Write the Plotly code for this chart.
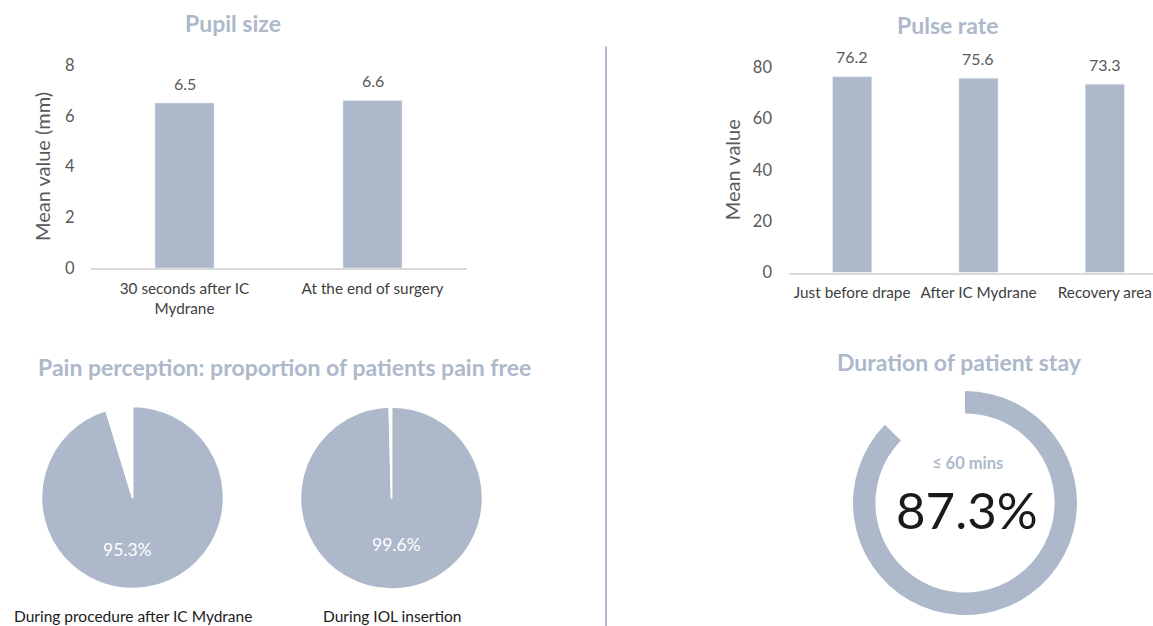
import plotly.graph_objects as go

# ---------------- data ----------------
pupil_categories = ["30 seconds after IC<br>Mydrane", "At the end of surgery"]
pupil_values = [6.5, 6.6]
pupil_ticks = [0, 2, 4, 6, 8]

pulse_categories = ["Just before drape", "After IC Mydrane", "Recovery area"]
pulse_values = [76.2, 75.6, 73.3]
pulse_ticks = [0, 20, 40, 60, 80]

pain_labels = ["During procedure after IC Mydrane", "During IOL insertion"]
pain_free = [95.3, 99.6]

stay_label = "≤ 60 mins"
stay_value = 87.3

# ---------------- style ----------------
W, H = 1153, 626
BAR = "#ADB9CA"
TITLE = "#ADB9CA"
TICK = "#595959"
FONT = "Lato, 'Open Sans', sans-serif"


def px(x):
    return x / W


def py(y):
    return 1 - y / H


fig = go.Figure()

# Pupil size bars
fig.add_trace(go.Bar(
    x=pupil_categories, y=pupil_values, marker_color=BAR, width=0.314,
    xaxis="x", yaxis="y", showlegend=False, hoverinfo="x+y"))

# Pulse rate bars
fig.add_trace(go.Bar(
    x=pulse_categories, y=pulse_values, marker_color=BAR, width=0.31,
    xaxis="x2", yaxis="y2", showlegend=False, hoverinfo="x+y"))

annotations = []
for cat, v in zip(pupil_categories, pupil_values):
    annotations.append(dict(x=cat, y=v, xref="x", yref="y", text=f"{v:.1f}",
                            yanchor="middle", yshift=20,
                            font=dict(size=16, color=TICK)))
for cat, v in zip(pulse_categories, pulse_values):
    annotations.append(dict(x=cat, y=v, xref="x2", yref="y2", text=f"{v:.1f}",
                            yanchor="middle", yshift=20,
                            font=dict(size=16, color=TICK)))

# Pain pies
pie_centers = [(132.5, 497.5), (391.5, 498)]
pie_label_offsets = [(-5.5, 51.5), (4.5, 46)]
pie_r = 91
for i, (val, (cx, cy)) in enumerate(zip(pain_free, pie_centers)):
    fig.add_trace(go.Pie(
        values=[val, round(100 - val, 1)],
        labels=["Pain free", "Pain"],
        marker=dict(colors=[BAR, "#FFFFFF"], line=dict(color="#FFFFFF", width=1.5)),
        sort=False, direction="clockwise", rotation=0,
        textinfo="none",
        domain=dict(x=[px(cx - pie_r), px(cx + pie_r)], y=[py(cy + pie_r), py(cy - pie_r)]),
        showlegend=False, hoverinfo="label+percent"))
    ox, oy = pie_label_offsets[i]
    annotations.append(dict(text=f"{val:.1f}%", x=px(cx + ox), y=py(cy + oy),
                            xref="paper", yref="paper",
                            font=dict(size=17.5, color="#FFFFFF")))
    annotations.append(dict(text=pain_labels[i], x=px(cx), y=py(616),
                            xref="paper", yref="paper",
                            font=dict(size=15.5, color="#1A1A1A")))

# Duration donut
dcx, dcy, dr = 965, 503, 112
fig.add_trace(go.Pie(
    values=[stay_value, round(100 - stay_value, 1)],
    labels=["≤ 60 mins", "> 60 mins"],
    marker=dict(colors=[BAR, "rgba(255,255,255,0)"]),
    hole=0.8, sort=False, direction="clockwise", rotation=0,
    textinfo="none",
    domain=dict(x=[px(dcx - dr), px(dcx + dr)], y=[py(dcy + dr), py(dcy - dr)]),
    showlegend=False, hoverinfo="label+percent"))

xtick_font = dict(size=15.3, color="#404040", family=FONT)
ytick_font = dict(size=16.5, color=TICK, family=FONT)

fig.update_layout(
    width=W, height=H,
    margin=dict(l=0, r=0, t=0, b=0, pad=0, autoexpand=False),
    paper_bgcolor="white", plot_bgcolor="white",
    font=dict(family=FONT, color=TICK),
    xaxis=dict(domain=[px(90.5), px(466.5)], anchor="y", showgrid=False,
               showline=True, linecolor="#D9D9D9", linewidth=1.5,
               ticks="", tickfont=xtick_font, range=[-0.5, 1.5],
               ticklabelstandoff=6, automargin=False),
    yaxis=dict(domain=[py(268), py(65)], anchor="x", range=[0, 8],
               tickvals=pupil_ticks, showgrid=False, zeroline=False,
               showline=False, ticks="", tickfont=ytick_font,
               ticklabelstandoff=15, automargin=False,
               title=dict(text="Mean value (mm)", font=dict(size=20, color=TICK), standoff=8)),
    xaxis2=dict(domain=[px(789), 1.0], anchor="y2", showgrid=False,
                showline=True, linecolor="#D9D9D9", linewidth=1.5,
                ticks="", tickfont=xtick_font,
                range=[-0.5, 2.5 - (1168 - 1153) / 126.7],
                ticklabelstandoff=5, automargin=False),
    yaxis2=dict(domain=[py(272.5), py(67)], anchor="x2", range=[0, 80],
                tickvals=pulse_ticks, showgrid=False, zeroline=False,
                showline=False, ticks="", tickfont=ytick_font,
                ticklabelstandoff=16, automargin=False,
                title=dict(text="Mean value", font=dict(size=20, color=TICK), standoff=6)),
)

annotations += [
    dict(text="<b>Pupil size</b>", x=px(233), y=py(23), font=dict(size=23, color=TITLE)),
    dict(text="<b>Pulse rate</b>", x=px(948), y=py(25), font=dict(size=23, color=TITLE)),
    dict(text="<b>Pain perception: proportion of patients pain free</b>", x=px(284), y=py(367),
         font=dict(size=23, color=TITLE)),
    dict(text="<b>Duration of patient stay</b>", x=px(959), y=py(362), font=dict(size=23, color=TITLE)),
    dict(text=f"<b>{stay_label}</b>", x=px(968), y=py(463), font=dict(size=16.5, color=TITLE)),
    dict(text=f"{stay_value:.1f}%", x=px(967), y=py(509), font=dict(size=51, color="#1A1A1A")),
]
for a in annotations:
    a.setdefault("xref", "paper")
    a.setdefault("yref", "paper")
    a.setdefault("xanchor", "center")
    a.setdefault("yanchor", "middle")
    a["showarrow"] = False
fig.update_layout(annotations=annotations)

fig.add_shape(type="line", xref="paper", yref="paper",
              x0=px(606), x1=px(606), y0=py(46.5), y1=0,
              line=dict(color="#ADB9CA", width=2))

fig.write_html("out.html")
